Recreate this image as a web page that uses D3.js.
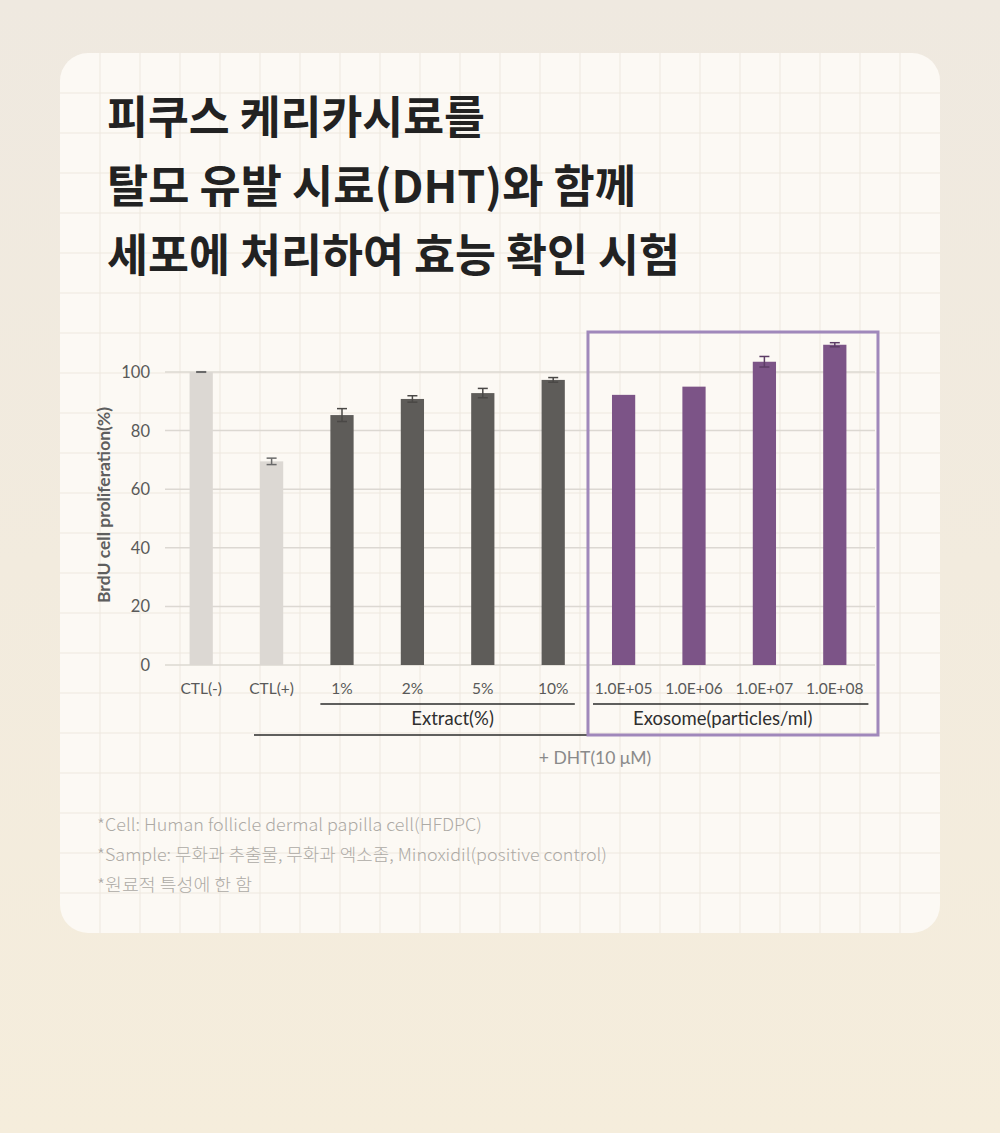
<!DOCTYPE html>
<html>
<head>
<meta charset="utf-8">
<script src="https://cdn.jsdelivr.net/npm/d3@7"></script>
<style>
  html, body { margin: 0; padding: 0; }
  body { width: 1000px; height: 1133px; overflow: hidden; }
  svg { display: block; }
</style>
</head>
<body>
<svg id="chart" width="1000" height="1133"></svg>
<script>
// chart data
var categories = ["CTL(-)", "CTL(+)", "1%", "2%", "5%", "10%", "1.0E+05", "1.0E+06", "1.0E+07", "1.0E+08"];
var values = [100, 69.5, 85.3, 90.8, 92.8, 97.3, 92.2, 95.0, 103.5, 109.3];
var errors = [0.1, 1.1, 2.2, 1.1, 1.6, 0.8, 0, 0, 1.8, 0.7];
var groups = ["ctl", "ctl", "ext", "ext", "ext", "ext", "exo", "exo", "exo", "exo"];
var yTicks = [0, 20, 40, 60, 80, 100];

var titleLines = ["피쿠스 케리카시료를", "탈모 유발 시료(DHT)와 함께", "세포에 처리하여 효능 확인 시험"];
var notes = ["*Cell: Human follicle dermal papilla cell(HFDPC)",
             "*Sample: 무화과 추출물, 무화과 엑소좀, Minoxidil(positive control)",
             "*원료적 특성에 한 함"];

var svg = d3.select("#chart");

// background + card
var defs = svg.append("defs");
var grad = defs.append("linearGradient").attr("id", "bg").attr("x1", 0).attr("y1", 0).attr("x2", 0).attr("y2", 1);
grad.append("stop").attr("offset", "0%").attr("stop-color", "#efe9e0");
grad.append("stop").attr("offset", "100%").attr("stop-color", "#f5eddc");
svg.append("rect").attr("width", 1000).attr("height", 1133).attr("fill", "url(#bg)");

defs.append("clipPath").attr("id", "cardClip")
  .append("rect").attr("x", 60).attr("y", 53).attr("width", 880).attr("height", 880).attr("rx", 28);
svg.append("rect").attr("x", 60).attr("y", 53).attr("width", 880).attr("height", 880).attr("rx", 28)
  .attr("fill", "#fcf9f4");

// notebook grid on card
var paper = svg.append("g").attr("clip-path", "url(#cardClip)");
paper.selectAll("line.v").data(d3.range(100, 940, 40)).enter().append("line")
  .attr("x1", function(d) { return d; }).attr("x2", function(d) { return d; })
  .attr("y1", 53).attr("y2", 933)
  .attr("stroke", "#eee8df").attr("stroke-width", 1);
paper.selectAll("line.h").data(d3.range(93, 933, 40)).enter().append("line")
  .attr("y1", function(d) { return d; }).attr("y2", function(d) { return d; })
  .attr("x1", 60).attr("x2", 940)
  .attr("stroke", "#eee8df").attr("stroke-width", 1);

// title
var titleLens = [378, 529, 573];
svg.selectAll("text.title").data(titleLines).enter().append("text")
  .attr("class", "title")
  .attr("x", 107)
  .attr("y", function(d, i) { return 134 + i * 69; })
  .attr("textLength", function(d, i) { return titleLens[i]; })
  .attr("lengthAdjust", "spacingAndGlyphs")
  .attr("font-family", "'Noto Sans CJK KR', sans-serif")
  .attr("font-weight", 700)
  .attr("font-size", 45)
  .attr("fill", "#222")
  .text(function(d) { return d; });

// scales
var x = d3.scaleBand().domain(categories).range([166, 870]).paddingInner(0.67).paddingOuter(0.335);
var y = d3.scaleLinear().domain([0, 100]).range([665, 372]);

var fillFor = { ctl: "#dcd8d3", ext: "#5e5c59", exo: "#7c5487" };
var errFor = { ctl: "#6a6a6a", ext: "#4a4846", exo: "#5d3d66" };

var chart = svg.append("g");

// horizontal gridlines
chart.selectAll("line.grid").data(yTicks).enter().append("line")
  .attr("x1", 165).attr("x2", 875)
  .attr("y1", function(d) { return y(d); }).attr("y2", function(d) { return y(d); })
  .attr("stroke", "#dcd8d2").attr("stroke-width", 1.5);

// y axis tick labels
chart.selectAll("text.ytick").data(yTicks).enter().append("text")
  .attr("x", 150)
  .attr("y", function(d) { return y(d) + 6; })
  .attr("text-anchor", "end")
  .attr("font-family", "Lato, sans-serif")
  .attr("font-size", 16.5)
  .attr("fill", "#595959")
  .text(function(d) { return d; });

// y axis title
chart.append("text")
  .attr("transform", "translate(110,505) rotate(-90)")
  .attr("text-anchor", "middle")
  .attr("font-family", "Lato, sans-serif")
  .attr("font-weight", 700)
  .attr("font-size", 17.5)
  .attr("fill", "#5e5e5e")
  .text("BrdU cell proliferation(%)");

var rows = categories.map(function(c, i) {
  return { cat: c, val: values[i], err: errors[i], grp: groups[i] };
});

// bars
chart.selectAll("rect.bar").data(rows).enter().append("rect")
  .attr("x", function(d) { return x(d.cat); })
  .attr("y", function(d) { return y(d.val); })
  .attr("width", x.bandwidth())
  .attr("height", function(d) { return y(0) - y(d.val); })
  .attr("fill", function(d) { return fillFor[d.grp]; });

// error bars
var eb = chart.selectAll("g.err").data(rows.filter(function(d) { return d.err > 0; })).enter().append("g")
  .attr("stroke", function(d) { return errFor[d.grp]; })
  .attr("stroke-width", 1.5);
eb.append("line")
  .attr("x1", function(d) { return x(d.cat) + x.bandwidth() / 2; })
  .attr("x2", function(d) { return x(d.cat) + x.bandwidth() / 2; })
  .attr("y1", function(d) { return y(d.val - d.err); })
  .attr("y2", function(d) { return y(d.val + d.err); });
eb.append("line")
  .attr("x1", function(d) { return x(d.cat) + x.bandwidth() / 2 - 5; })
  .attr("x2", function(d) { return x(d.cat) + x.bandwidth() / 2 + 5; })
  .attr("y1", function(d) { return y(d.val + d.err); })
  .attr("y2", function(d) { return y(d.val + d.err); });
eb.append("line")
  .attr("x1", function(d) { return x(d.cat) + x.bandwidth() / 2 - 5; })
  .attr("x2", function(d) { return x(d.cat) + x.bandwidth() / 2 + 5; })
  .attr("y1", function(d) { return y(d.val - d.err); })
  .attr("y2", function(d) { return y(d.val - d.err); });

// x tick labels
chart.selectAll("text.xtick").data(categories).enter().append("text")
  .attr("x", function(d) { return x(d) + x.bandwidth() / 2; })
  .attr("y", 694)
  .attr("text-anchor", "middle")
  .attr("font-family", "Lato, sans-serif")
  .attr("font-size", 15.5)
  .attr("fill", "#595959")
  .text(function(d) { return d; });

// group brackets
var extCats = categories.filter(function(d, i) { return groups[i] === "ext"; });
var exoCats = categories.filter(function(d, i) { return groups[i] === "exo"; });
var extL = x(extCats[0]) - 10, extR = x(extCats[extCats.length - 1]) + x.bandwidth() + 10;
var exoL = x(exoCats[0]) - 19, exoR = x(exoCats[exoCats.length - 1]) + x.bandwidth() + 22;

chart.append("line").attr("x1", extL).attr("x2", extR).attr("y1", 704).attr("y2", 704)
  .attr("stroke", "#2b2b2b").attr("stroke-width", 1.5);
chart.append("line").attr("x1", exoL).attr("x2", exoR).attr("y1", 704).attr("y2", 704)
  .attr("stroke", "#2b2b2b").attr("stroke-width", 1.5);
chart.append("text").attr("x", (extL + extR) / 2 + 5).attr("y", 725).attr("text-anchor", "middle")
  .attr("font-family", "Lato, sans-serif").attr("font-size", 18.5).attr("fill", "#2f2f2f")
  .text("Extract(%)");
chart.append("text").attr("x", (exoL + exoR) / 2 - 8).attr("y", 725).attr("text-anchor", "middle")
  .attr("font-family", "Lato, sans-serif").attr("font-size", 18.5).attr("fill", "#2f2f2f")
  .text("Exosome(particles/ml)");

// long DHT line
chart.append("line").attr("x1", 254).attr("x2", 590).attr("y1", 735).attr("y2", 735)
  .attr("stroke", "#2b2b2b").attr("stroke-width", 1.5);
chart.append("text").attr("x", 595).attr("y", 764).attr("text-anchor", "middle")
  .attr("font-family", "Lato, sans-serif").attr("font-size", 17.5).attr("fill", "#8a8a8a")
  .text("+ DHT(10 μM)");

// highlight box around exosome bars
chart.append("rect")
  .attr("x", x(exoCats[0]) - 24).attr("y", 332)
  .attr("width", 290).attr("height", 403)
  .attr("fill", "none").attr("stroke", "#a088bb").attr("stroke-width", 3);

// footnotes
var noteLens = [385, 510, 155];
svg.selectAll("text.note").data(notes).enter().append("text")
  .attr("x", 97)
  .attr("y", function(d, i) { return 831 + i * 30; })
  .attr("textLength", function(d, i) { return noteLens[i]; })
  .attr("lengthAdjust", "spacingAndGlyphs")
  .attr("font-family", "'Noto Sans CJK KR', sans-serif")
  .attr("font-weight", 300)
  .attr("font-size", 17)
  .attr("fill", "#adaaa5")
  .text(function(d) { return d; });
</script>
</body>
</html>
